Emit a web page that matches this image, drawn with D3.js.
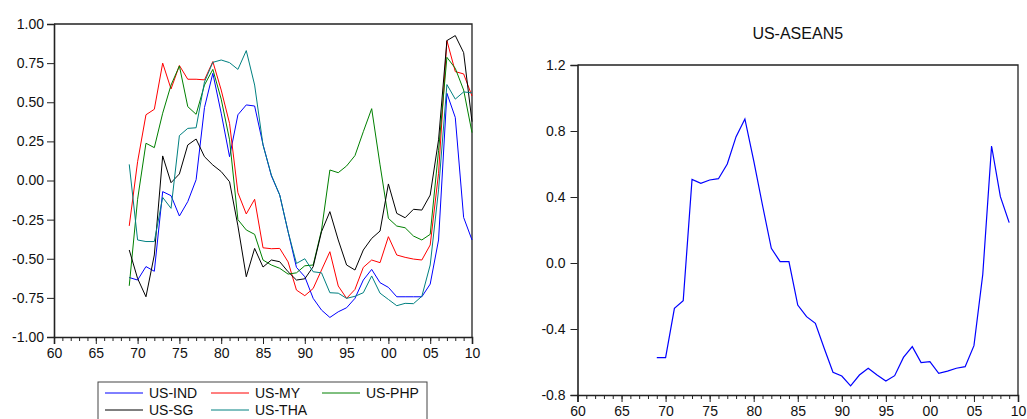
<!DOCTYPE html>
<html><head><meta charset="utf-8">
<script src="https://cdn.jsdelivr.net/npm/d3@7"></script>
<style>
body{margin:0;background:#fff;}
svg text{font-family:"Liberation Sans",Arial,sans-serif;fill:#111;}
</style></head>
<body><svg id="c" width="1027" height="419"></svg>
<script>
const years = [1969,1970,1971,1972,1973,1974,1975,1976,1977,1978,1979,1980,1981,1982,1983,1984,1985,1986,1987,1988,1989,1990,1991,1992,1993,1994,1995,1996,1997,1998,1999,2000,2001,2002,2003,2004,2005,2006,2007,2008,2009,2010];
const usInd = [-0.62,-0.636,-0.55,-0.58,-0.071,-0.097,-0.227,-0.135,0.005,0.466,0.685,0.43,0.152,0.42,0.483,0.476,0.23,0.03,-0.093,-0.327,-0.555,-0.615,-0.753,-0.828,-0.875,-0.839,-0.813,-0.753,-0.636,-0.568,-0.653,-0.683,-0.743,-0.743,-0.743,-0.743,-0.662,-0.38,0.557,0.403,-0.236,-0.38];
const usMy = [-0.29,0.12,0.42,0.455,0.75,0.585,0.735,0.647,0.647,0.643,0.76,0.578,0.365,-0.078,-0.214,-0.12,-0.43,-0.436,-0.434,-0.52,-0.70,-0.736,-0.69,-0.572,-0.455,-0.674,-0.753,-0.696,-0.555,-0.508,-0.525,-0.359,-0.476,-0.491,-0.502,-0.508,-0.412,0.046,0.894,0.696,0.681,0.54];
const usPhp = [-0.673,-0.12,0.238,0.21,0.43,0.61,0.732,0.472,0.423,0.61,0.71,0.52,0.26,-0.25,-0.316,-0.344,-0.508,-0.54,-0.561,-0.598,-0.59,-0.545,-0.54,-0.317,0.067,0.05,0.093,0.159,0.312,0.459,0.1,-0.242,-0.291,-0.302,-0.355,-0.38,-0.344,0.19,0.787,0.717,0.578,0.306];
const usSg = [-0.444,-0.626,-0.743,-0.476,0.157,-0.014,0.042,0.227,0.265,0.152,0.099,0.057,-0.008,-0.29,-0.615,-0.434,-0.553,-0.508,-0.519,-0.583,-0.636,-0.628,-0.551,-0.327,-0.199,-0.38,-0.54,-0.572,-0.444,-0.37,-0.323,-0.022,-0.21,-0.238,-0.184,-0.189,-0.093,0.26,0.894,0.926,0.817,0.376];
const usTha = [0.103,-0.38,-0.39,-0.39,-0.108,-0.178,0.287,0.333,0.337,0.63,0.755,0.77,0.753,0.71,0.83,0.61,0.227,0.035,-0.093,-0.327,-0.53,-0.50,-0.583,-0.59,-0.717,-0.72,-0.753,-0.74,-0.717,-0.61,-0.72,-0.76,-0.80,-0.785,-0.787,-0.74,-0.54,-0.06,0.613,0.52,0.566,0.56];
const aseanYears = [1969,1970,1971,1972,1973,1974,1975,1976,1977,1978,1979,1980,1981,1982,1983,1984,1985,1986,1987,1988,1989,1990,1991,1992,1993,1994,1995,1996,1997,1998,1999,2000,2001,2002,2003,2004,2005,2006,2007,2008,2009];
const usAsean5 = [-0.574,-0.574,-0.275,-0.228,0.507,0.483,0.503,0.511,0.60,0.766,0.873,0.62,0.35,0.089,0.008,0.008,-0.255,-0.325,-0.366,-0.517,-0.662,-0.685,-0.745,-0.679,-0.638,-0.679,-0.715,-0.683,-0.572,-0.507,-0.604,-0.598,-0.669,-0.655,-0.638,-0.628,-0.501,-0.07,0.709,0.402,0.245];
const xTicks = [1960,1965,1970,1975,1980,1985,1990,1995,2000,2005,2010];
const xMinor = [1960,1961,1962,1963,1964,1965,1966,1967,1968,1969,1970,1971,1972,1973,1974,1975,1976,1977,1978,1979,1980,1981,1982,1983,1984,1985,1986,1987,1988,1989,1990,1991,1992,1993,1994,1995,1996,1997,1998,1999,2000,2001,2002,2003,2004,2005,2006,2007,2008,2009,2010];
const yTicksLeft = [-1.0,-0.75,-0.5,-0.25,0,0.25,0.5,0.75,1.0];
const yTicksRight = [-0.8,-0.4,0.0,0.4,0.8,1.2];
const seriesNames = ["US-IND","US-MY","US-PHP","US-SG","US-THA"];
const seriesColors = ["#0000ff","#ff0000","#008000","#000000","#008080"];
const seriesData = [usInd,usMy,usPhp,usSg,usTha];
const title = "US-ASEAN5";

const svg = d3.select("#c");
const fmtYear = d => String(d % 100).padStart(2,"0");

function panel(x0,x1,y0,y1,yDomain,yTicks,yFmt,yPad){
  const g = svg.append("g");
  const x = d3.scaleLinear().domain([1960,2010]).range([x0,x1]);
  const y = d3.scaleLinear().domain(yDomain).range([y1,y0]);
  g.append("path").attr("d",`M${x0},${y0}H${x1}V${y1}`).attr("fill","none").attr("stroke","#222").attr("stroke-width",1.3);
  const minor = g.append("g").attr("transform",`translate(0,${y1})`)
    .call(d3.axisBottom(x).tickValues(xMinor).tickSize(4).tickFormat(""));
  minor.select(".domain").remove();
  const major = g.append("g").attr("transform",`translate(0,${y1})`)
    .call(d3.axisBottom(x).tickValues(xTicks).tickSize(7).tickPadding(4).tickFormat(fmtYear));
  major.select(".domain").attr("stroke-width",1.6);
  major.selectAll("text").style("font-size","14px").attr("fill","#111");
  const ya = g.append("g").attr("transform",`translate(${x0},0)`)
    .call(d3.axisLeft(y).tickValues(yTicks).tickSize(7).tickPadding(yPad).tickFormat(yFmt));
  ya.select(".domain").attr("stroke-width",1.6);
  ya.selectAll("text").style("font-size","14px").attr("fill","#111");
  g.selectAll(".tick line").attr("stroke","#222");
  g.selectAll(".domain").attr("stroke","#222");
  return {g,x,y};
}

const L = panel(54,472,24,337,[-1,1],yTicksLeft,d=>d.toFixed(2),3);
const lineL = d3.line().x((d,i)=>L.x(years[i])).y(d=>L.y(d));
seriesData.forEach((s,k)=>{
  L.g.append("path").datum(s).attr("d",lineL).attr("fill","none")
    .attr("stroke",seriesColors[k]).attr("stroke-width",1);
});

const R = panel(577.5,1018,65,395,[-0.8,1.2],yTicksRight,d=>d.toFixed(1),5);
const lineR = d3.line().x((d,i)=>R.x(aseanYears[i])).y(d=>R.y(d));
R.g.append("path").datum(usAsean5).attr("d",lineR).attr("fill","none")
  .attr("stroke","#0000ff").attr("stroke-width",1.2);
svg.append("text").attr("x",(577.5+1018)/2).attr("y",39).attr("text-anchor","middle")
  .style("font-size","16px").text(title);

const lg = svg.append("g");
lg.append("rect").attr("x",98).attr("y",382).attr("width",329).attr("height",50)
  .attr("fill","#fff").attr("stroke","#444").attr("stroke-width",1);
const cols = [105,211,322];
seriesNames.forEach((n,k)=>{
  const cx = cols[k%3], cy = k<3 ? 393 : 410;
  lg.append("line").attr("x1",cx).attr("x2",cx+38).attr("y1",cy).attr("y2",cy)
    .attr("stroke",seriesColors[k]).attr("stroke-width",1);
  lg.append("text").attr("x",cx+44).attr("y",cy+5).style("font-size","14px").text(n);
});
</script></body></html>
